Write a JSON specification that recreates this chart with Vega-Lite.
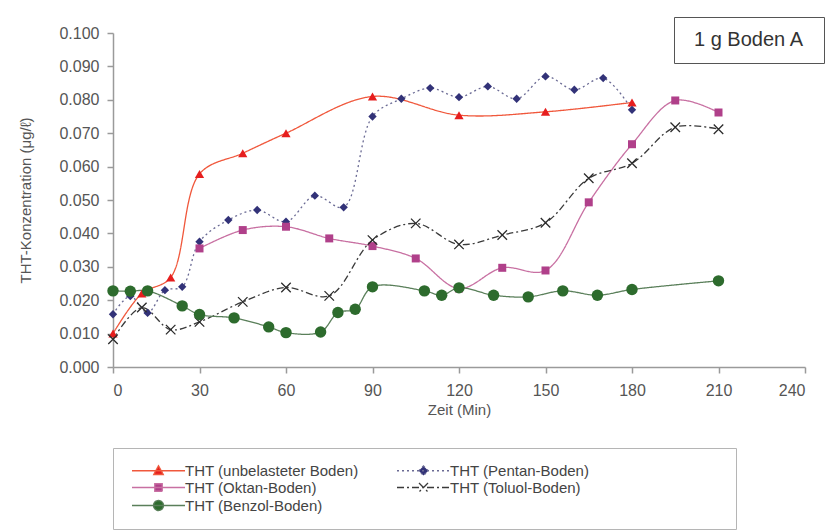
{
  "$schema": "https://vega.github.io/schema/vega-lite/v6.json",
  "width": 692,
  "height": 334,
  "autosize": "none",
  "padding": {"left": 113, "top": 33, "right": 35, "bottom": 165},
  "background": "white",
  "config": {
    "font": "Liberation Sans",
    "view": {"stroke": null},
    "axis": {
      "grid": false,
      "domainColor": "#9a9a9a",
      "domainWidth": 1.5,
      "tickColor": "#9a9a9a",
      "tickWidth": 1.5,
      "tickSize": 6,
      "labelColor": "#555555",
      "labelFontSize": 16,
      "labelFont": "Liberation Sans",
      "titleColor": "#555555",
      "titleFont": "Liberation Sans",
      "titleFontSize": 15,
      "titleFontWeight": "normal"
    }
  },
  "layer": [
    {
      "data": {
        "values": [
          {"series": "THT (unbelasteter Boden)", "t": 0, "v": 0.0100},
          {"series": "THT (unbelasteter Boden)", "t": 10, "v": 0.0220},
          {"series": "THT (unbelasteter Boden)", "t": 20, "v": 0.0268},
          {"series": "THT (unbelasteter Boden)", "t": 30, "v": 0.0578},
          {"series": "THT (unbelasteter Boden)", "t": 45, "v": 0.0640},
          {"series": "THT (unbelasteter Boden)", "t": 60, "v": 0.0700},
          {"series": "THT (unbelasteter Boden)", "t": 90, "v": 0.0810},
          {"series": "THT (unbelasteter Boden)", "t": 120, "v": 0.0754},
          {"series": "THT (unbelasteter Boden)", "t": 150, "v": 0.0764},
          {"series": "THT (unbelasteter Boden)", "t": 180, "v": 0.0792},

          {"series": "THT (Pentan-Boden)", "t": 0, "v": 0.0158},
          {"series": "THT (Pentan-Boden)", "t": 6, "v": 0.0212},
          {"series": "THT (Pentan-Boden)", "t": 12, "v": 0.0162},
          {"series": "THT (Pentan-Boden)", "t": 18, "v": 0.0230},
          {"series": "THT (Pentan-Boden)", "t": 24, "v": 0.0240},
          {"series": "THT (Pentan-Boden)", "t": 30, "v": 0.0375},
          {"series": "THT (Pentan-Boden)", "t": 40, "v": 0.0440},
          {"series": "THT (Pentan-Boden)", "t": 50, "v": 0.0470},
          {"series": "THT (Pentan-Boden)", "t": 60, "v": 0.0435},
          {"series": "THT (Pentan-Boden)", "t": 70, "v": 0.0513},
          {"series": "THT (Pentan-Boden)", "t": 80, "v": 0.0478},
          {"series": "THT (Pentan-Boden)", "t": 90, "v": 0.0750},
          {"series": "THT (Pentan-Boden)", "t": 100, "v": 0.0803},
          {"series": "THT (Pentan-Boden)", "t": 110, "v": 0.0835},
          {"series": "THT (Pentan-Boden)", "t": 120, "v": 0.0808},
          {"series": "THT (Pentan-Boden)", "t": 130, "v": 0.0840},
          {"series": "THT (Pentan-Boden)", "t": 140, "v": 0.0803},
          {"series": "THT (Pentan-Boden)", "t": 150, "v": 0.0870},
          {"series": "THT (Pentan-Boden)", "t": 160, "v": 0.0830},
          {"series": "THT (Pentan-Boden)", "t": 170, "v": 0.0865},
          {"series": "THT (Pentan-Boden)", "t": 180, "v": 0.0770},

          {"series": "THT (Oktan-Boden)", "t": 30, "v": 0.0355},
          {"series": "THT (Oktan-Boden)", "t": 45, "v": 0.0410},
          {"series": "THT (Oktan-Boden)", "t": 60, "v": 0.0420},
          {"series": "THT (Oktan-Boden)", "t": 75, "v": 0.0385},
          {"series": "THT (Oktan-Boden)", "t": 90, "v": 0.0362},
          {"series": "THT (Oktan-Boden)", "t": 105, "v": 0.0325},
          {"series": "THT (Oktan-Boden)", "t": 120, "v": 0.0235},
          {"series": "THT (Oktan-Boden)", "t": 135, "v": 0.0297},
          {"series": "THT (Oktan-Boden)", "t": 150, "v": 0.0289},
          {"series": "THT (Oktan-Boden)", "t": 165, "v": 0.0493},
          {"series": "THT (Oktan-Boden)", "t": 180, "v": 0.0667},
          {"series": "THT (Oktan-Boden)", "t": 195, "v": 0.0798},
          {"series": "THT (Oktan-Boden)", "t": 210, "v": 0.0762},

          {"series": "THT (Toluol-Boden)", "t": 0, "v": 0.0083},
          {"series": "THT (Toluol-Boden)", "t": 10, "v": 0.0178},
          {"series": "THT (Toluol-Boden)", "t": 20, "v": 0.0112},
          {"series": "THT (Toluol-Boden)", "t": 30, "v": 0.0135},
          {"series": "THT (Toluol-Boden)", "t": 45, "v": 0.0195},
          {"series": "THT (Toluol-Boden)", "t": 60, "v": 0.0238},
          {"series": "THT (Toluol-Boden)", "t": 75, "v": 0.0213},
          {"series": "THT (Toluol-Boden)", "t": 90, "v": 0.0380},
          {"series": "THT (Toluol-Boden)", "t": 105, "v": 0.0430},
          {"series": "THT (Toluol-Boden)", "t": 120, "v": 0.0367},
          {"series": "THT (Toluol-Boden)", "t": 135, "v": 0.0395},
          {"series": "THT (Toluol-Boden)", "t": 150, "v": 0.0432},
          {"series": "THT (Toluol-Boden)", "t": 165, "v": 0.0565},
          {"series": "THT (Toluol-Boden)", "t": 180, "v": 0.0610},
          {"series": "THT (Toluol-Boden)", "t": 195, "v": 0.0718},
          {"series": "THT (Toluol-Boden)", "t": 210, "v": 0.0712},

          {"series": "THT (Benzol-Boden)", "t": 0, "v": 0.0228},
          {"series": "THT (Benzol-Boden)", "t": 6, "v": 0.0227},
          {"series": "THT (Benzol-Boden)", "t": 12, "v": 0.0228},
          {"series": "THT (Benzol-Boden)", "t": 24, "v": 0.0183},
          {"series": "THT (Benzol-Boden)", "t": 30, "v": 0.0157},
          {"series": "THT (Benzol-Boden)", "t": 42, "v": 0.0147},
          {"series": "THT (Benzol-Boden)", "t": 54, "v": 0.0120},
          {"series": "THT (Benzol-Boden)", "t": 60, "v": 0.0103},
          {"series": "THT (Benzol-Boden)", "t": 72, "v": 0.0105},
          {"series": "THT (Benzol-Boden)", "t": 78, "v": 0.0163},
          {"series": "THT (Benzol-Boden)", "t": 84, "v": 0.0173},
          {"series": "THT (Benzol-Boden)", "t": 90, "v": 0.0240},
          {"series": "THT (Benzol-Boden)", "t": 108, "v": 0.0228},
          {"series": "THT (Benzol-Boden)", "t": 114, "v": 0.0215},
          {"series": "THT (Benzol-Boden)", "t": 120, "v": 0.0237},
          {"series": "THT (Benzol-Boden)", "t": 132, "v": 0.0215},
          {"series": "THT (Benzol-Boden)", "t": 144, "v": 0.0210},
          {"series": "THT (Benzol-Boden)", "t": 156, "v": 0.0228},
          {"series": "THT (Benzol-Boden)", "t": 168, "v": 0.0215},
          {"series": "THT (Benzol-Boden)", "t": 180, "v": 0.0232},
          {"series": "THT (Benzol-Boden)", "t": 210, "v": 0.0258}
        ]
      },
      "encoding": {
        "x": {
          "field": "t",
          "type": "quantitative",
          "scale": {"domain": [0, 240], "nice": false},
          "axis": {
            "title": "Zeit (Min)",
            "values": [0, 30, 60, 90, 120, 150, 180, 210, 240],
            "labelPadding": 9,
            "titlePadding": 4
          }
        },
        "y": {
          "field": "v",
          "type": "quantitative",
          "scale": {"domain": [0, 0.1], "nice": false},
          "axis": {
            "title": "THT-Konzentration (μg/ℓ)",
            "values": [0, 0.01, 0.02, 0.03, 0.04, 0.05, 0.06, 0.07, 0.08, 0.09, 0.1],
            "format": ".3f",
            "labelPadding": 8,
            "titlePadding": 25
          }
        }
      },
      "layer": [
        {
          "mark": {"type": "line", "interpolate": "catmull-rom", "strokeWidth": 1.3},
          "encoding": {
            "color": {
              "field": "series",
              "type": "nominal",
              "scale": {
                "domain": ["THT (unbelasteter Boden)", "THT (Pentan-Boden)", "THT (Oktan-Boden)", "THT (Toluol-Boden)", "THT (Benzol-Boden)"],
                "range": ["#f0583c", "#6a6a94", "#c870a2", "#3a3a3a", "#5a7f5a"]
              },
              "legend": {
                "title": "\u00a0",
                "titleOrient": "right",
                "titlePadding": 132,
                "titleFontSize": 11,
                "orient": "none",
                "direction": "horizontal",
                "legendX": 0,
                "legendY": 415,
                "columns": 2,
                "columnPadding": 34,
                "rowPadding": 1,
                "padding": 15,
                "strokeColor": "#b5b5b5",
                "symbolSize": 100,
                "symbolStrokeWidth": 1.3,
                "symbolOffset": 23,
                "labelOffset": 19,
                "labelFontSize": 15,
                "labelColor": "#444444",
                "labelLimit": 300,
                "encode": {
                  "symbols": {
                    "update": {
                      "shape": {"signal": "datum.value === 'THT (unbelasteter Boden)' ? 'M-5.3,0H5.3M0,-1L0.95,0.75H-0.95Z' : datum.value === 'THT (Pentan-Boden)' ? 'M-5.3,0H5.3M0,-0.95L0.95,0L0,0.95L-0.95,0Z' : datum.value === 'THT (Oktan-Boden)' ? 'M-5.3,0H5.3M-0.75,-0.75H0.75V0.75H-0.75Z' : datum.value === 'THT (Toluol-Boden)' ? 'M-5.3,0H5.3M-0.9,-0.9L0.9,0.9M0.9,-0.9L-0.9,0.9' : 'M-5.3,0H5.3M1,0A1,1,0,1,1,-1,0A1,1,0,1,1,1,0Z'"},
                      "fill": {"signal": "datum.value === 'THT (unbelasteter Boden)' ? '#e61e1e' : datum.value === 'THT (Pentan-Boden)' ? '#323278' : datum.value === 'THT (Oktan-Boden)' ? '#b0408a' : datum.value === 'THT (Toluol-Boden)' ? '#2a2a2a' : '#2d6b2d'"},
                      "size": {"value": 100},
                      "strokeWidth": {"value": 1.3},
                      "opacity": {"value": 1}
                    }
                  }
                }
              }
            },
            "strokeDash": {
              "field": "series",
              "type": "nominal",
              "scale": {
                "domain": ["THT (unbelasteter Boden)", "THT (Pentan-Boden)", "THT (Oktan-Boden)", "THT (Toluol-Boden)", "THT (Benzol-Boden)"],
                "range": [[1, 0], [2, 3], [1, 0], [7, 3, 2, 3], [1, 0]]
              },
              "legend": {
                "title": "\u00a0",
                "titleOrient": "right",
                "titlePadding": 132,
                "titleFontSize": 11,
                "orient": "none",
                "direction": "horizontal",
                "legendX": 0,
                "legendY": 415,
                "columns": 2,
                "columnPadding": 34,
                "rowPadding": 1,
                "padding": 15,
                "strokeColor": "#b5b5b5",
                "symbolSize": 100,
                "symbolStrokeWidth": 1.3,
                "symbolOffset": 23,
                "labelOffset": 19,
                "labelFontSize": 15,
                "labelColor": "#444444",
                "labelLimit": 300,
                "encode": {
                  "symbols": {
                    "update": {
                      "shape": {"signal": "datum.value === 'THT (unbelasteter Boden)' ? 'M-5.3,0H5.3M0,-1L0.95,0.75H-0.95Z' : datum.value === 'THT (Pentan-Boden)' ? 'M-5.3,0H5.3M0,-0.95L0.95,0L0,0.95L-0.95,0Z' : datum.value === 'THT (Oktan-Boden)' ? 'M-5.3,0H5.3M-0.75,-0.75H0.75V0.75H-0.75Z' : datum.value === 'THT (Toluol-Boden)' ? 'M-5.3,0H5.3M-0.9,-0.9L0.9,0.9M0.9,-0.9L-0.9,0.9' : 'M-5.3,0H5.3M1,0A1,1,0,1,1,-1,0A1,1,0,1,1,1,0Z'"},
                      "fill": {"signal": "datum.value === 'THT (unbelasteter Boden)' ? '#e61e1e' : datum.value === 'THT (Pentan-Boden)' ? '#323278' : datum.value === 'THT (Oktan-Boden)' ? '#b0408a' : datum.value === 'THT (Toluol-Boden)' ? '#2a2a2a' : '#2d6b2d'"},
                      "size": {"value": 100},
                      "strokeWidth": {"value": 1.3},
                      "opacity": {"value": 1}
                    }
                  }
                }
              }
            }
          }
        },
        {
          "transform": [{"filter": {"field": "series", "equal": "THT (unbelasteter Boden)"}}],
          "mark": {"type": "point", "shape": "triangle-up", "filled": true, "color": "#e61e1e", "size": 85, "opacity": 1}
        },
        {
          "transform": [{"filter": {"field": "series", "equal": "THT (Pentan-Boden)"}}],
          "mark": {"type": "point", "shape": "diamond", "filled": true, "color": "#323278", "size": 70, "opacity": 1}
        },
        {
          "transform": [{"filter": {"field": "series", "equal": "THT (Oktan-Boden)"}}],
          "mark": {"type": "point", "shape": "square", "filled": true, "color": "#b0408a", "size": 64, "opacity": 1}
        },
        {
          "transform": [{"filter": {"field": "series", "equal": "THT (Toluol-Boden)"}}],
          "mark": {"type": "point", "shape": "M-1,-1L1,1M1,-1L-1,1", "filled": false, "stroke": "#2a2a2a", "strokeWidth": 1.3, "size": 90, "opacity": 1}
        },
        {
          "transform": [{"filter": {"field": "series", "equal": "THT (Benzol-Boden)"}}],
          "mark": {"type": "point", "shape": "circle", "filled": true, "color": "#2d6b2d", "size": 130, "opacity": 1}
        }
      ]
    },
    {
      "data": {"values": [{"note": "1 g Boden A"}]},
      "mark": {"type": "point", "size": 0, "strokeWidth": 0, "fillOpacity": 0, "strokeOpacity": 0},
      "encoding": {
        "opacity": {
          "field": "note",
          "type": "nominal",
          "scale": {"range": [0]},
          "legend": {
            "title": "\u00a0",
            "titleOrient": "right",
            "titlePadding": 7,
            "titleFontSize": 11,
            "orient": "none",
            "legendX": 561,
            "legendY": -16,
            "padding": 13,
            "strokeColor": "#555555",
            "symbolSize": 0,
            "symbolStrokeWidth": 0,
            "symbolOpacity": 0,
            "labelFontSize": 20,
            "labelColor": "#333333",
            "labelOffset": -13,
            "labelLimit": 300
          }
        }
      }
    }
  ]
}
